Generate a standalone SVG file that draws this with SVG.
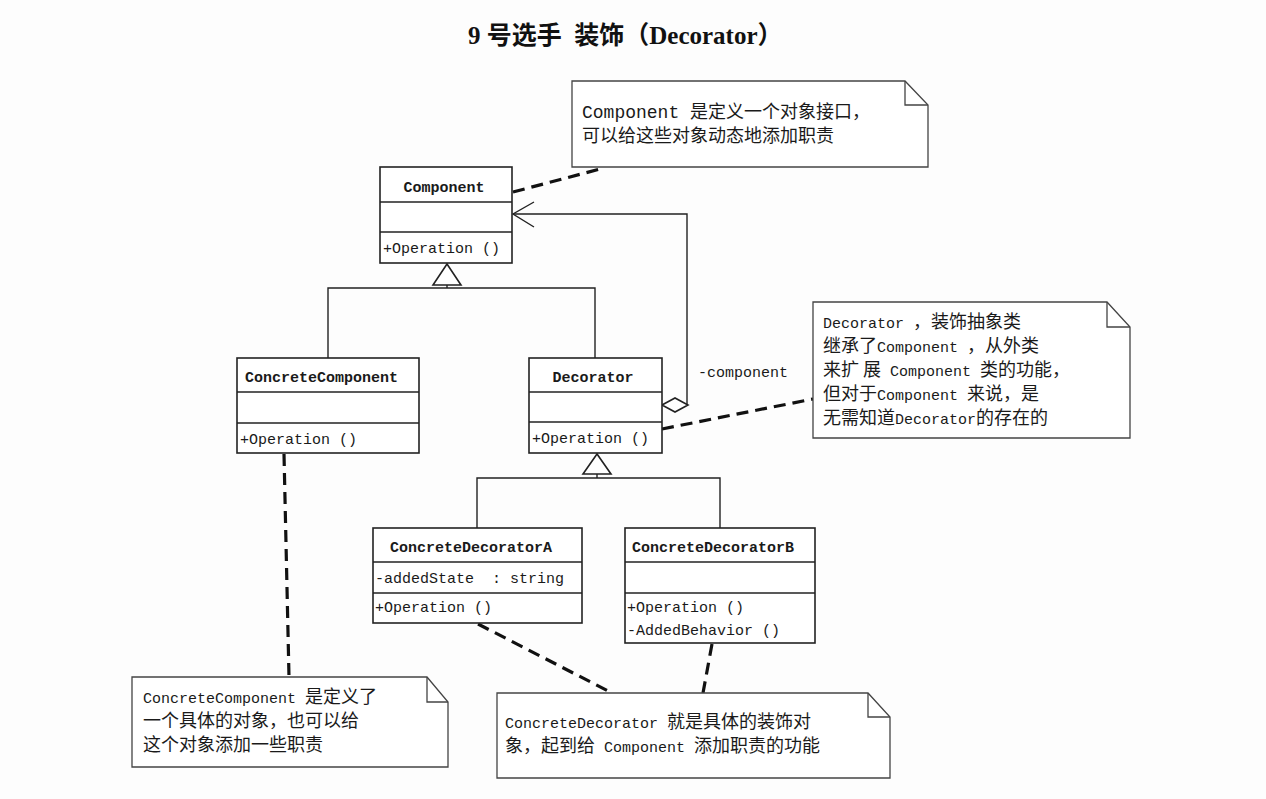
<svg xmlns="http://www.w3.org/2000/svg" width="1266" height="799" viewBox="0 0 1266 799">
<style>
.bg{fill:#fdfdfd}
.box{fill:#fff;stroke:#222;stroke-width:1.6}
.div{stroke:#222;stroke-width:1.4;fill:none}
.ln{stroke:#222;stroke-width:1.4;fill:none}
.tri{fill:#fff;stroke:#222;stroke-width:1.6}
.dash{stroke:#111;stroke-width:3.2;fill:none;stroke-dasharray:12 7}
.note{fill:#fff;stroke:#444;stroke-width:1.3}
.fold{fill:none;stroke:#444;stroke-width:1.3}
text{font-family:"Liberation Mono","Noto Sans CJK SC",monospace;fill:#1a1a1a}
.cls{font-size:15px}
.nm{font-size:15px;font-weight:bold}
.nt{font-size:15px}
.z{font-family:"Noto Sans CJK SC",sans-serif;font-size:18px}
.title{font-family:"Liberation Serif","Noto Sans CJK SC",serif;font-size:25px;font-weight:bold;fill:#111}
</style>
<rect class="bg" x="0" y="0" width="1266" height="799"/>
<text class="title" x="468" y="44" xml:space="preserve">9 号选手  装饰（Decorator）</text>

<g id="connectors">
  <polyline class="ln" points="328,358 328,288 595,288 595,358"/>
  <line class="ln" x1="447" y1="285" x2="447" y2="288"/>
  <polygon class="tri" points="447,264 433,285 461,285"/>
  <polyline class="ln" points="477,528 477,478 720,478 720,528"/>
  <line class="ln" x1="597" y1="474" x2="597" y2="478"/>
  <polygon class="tri" points="597,454 583,474 611,474"/>
  <polyline class="ln" points="687,405 687,214 513,214"/>
  <polyline class="ln" points="534,202 513,214 534,227"/>
  <polygon class="tri" points="662,405 675,398 688,405 675,412"/>
  <text class="cls" x="698" y="377">-component</text>
  <line class="dash" x1="513" y1="192" x2="604" y2="168"/>
  <line class="dash" x1="662" y1="429" x2="813" y2="399"/>
  <line class="dash" x1="284" y1="454" x2="289" y2="677"/>
  <line class="dash" x1="478" y1="624" x2="612" y2="693"/>
  <line class="dash" x1="712" y1="644" x2="703" y2="693"/>
</g>

<g id="component">
  <rect class="box" x="380" y="167" width="132" height="96"/>
  <line class="div" x1="380" y1="202" x2="512" y2="202"/>
  <line class="div" x1="380" y1="232" x2="512" y2="232"/>
  <text class="nm" x="444" y="192" text-anchor="middle">Component</text>
  <text class="cls" x="383" y="253">+Operation ()</text>
</g>

<g id="concrete-component">
  <rect class="box" x="237" y="358" width="182" height="95"/>
  <line class="div" x1="237" y1="392" x2="419" y2="392"/>
  <line class="div" x1="237" y1="423" x2="419" y2="423"/>
  <text class="nm" x="245" y="382">ConcreteComponent</text>
  <text class="cls" x="240" y="444">+Operation ()</text>
</g>

<g id="decorator">
  <rect class="box" x="529" y="358" width="133" height="95"/>
  <line class="div" x1="529" y1="392" x2="662" y2="392"/>
  <line class="div" x1="529" y1="422" x2="662" y2="422"/>
  <text class="nm" x="593" y="382" text-anchor="middle">Decorator</text>
  <text class="cls" x="532" y="443">+Operation ()</text>
</g>

<g id="concrete-decorator-a">
  <rect class="box" x="373" y="528" width="209" height="95"/>
  <line class="div" x1="373" y1="562" x2="582" y2="562"/>
  <line class="div" x1="373" y1="593" x2="582" y2="593"/>
  <text class="nm" x="390" y="552">ConcreteDecoratorA</text>
  <text class="cls" x="375" y="583" xml:space="preserve">-addedState  : string</text>
  <text class="cls" x="375" y="612">+Operation ()</text>
</g>

<g id="concrete-decorator-b">
  <rect class="box" x="625" y="528" width="190" height="115"/>
  <line class="div" x1="625" y1="562" x2="815" y2="562"/>
  <line class="div" x1="625" y1="593" x2="815" y2="593"/>
  <text class="nm" x="632" y="552">ConcreteDecoratorB</text>
  <text class="cls" x="627" y="612">+Operation ()</text>
  <text class="cls" x="627" y="635">-AddedBehavior ()</text>
</g>

<g id="note-component">
  <path class="note" d="M572,81 H905 L928,105 V167 H572 Z"/>
  <path class="fold" d="M905,81 V105 H928"/>
  <text x="582" y="118" style="font-size:18px"><tspan>Component </tspan><tspan class="z">是定义一个对象接口，</tspan></text>
  <text x="582" y="142"><tspan class="z">可以给这些对象动态地添加职责</tspan></text>
</g>

<g id="note-decorator">
  <path class="note" d="M813,302 H1107 L1130,327 V438 H813 Z"/>
  <path class="fold" d="M1107,302 V327 H1130"/>
  <text class="nt" x="823" y="328" xml:space="preserve"><tspan>Decorator </tspan><tspan class="z">，装饰抽象类</tspan></text>
  <text class="nt" x="823" y="352" xml:space="preserve"><tspan class="z">继承了</tspan><tspan>Component </tspan><tspan class="z">，从外类</tspan></text>
  <text class="nt" x="823" y="376" xml:space="preserve"><tspan class="z">来扩 展</tspan><tspan> Component </tspan><tspan class="z">类的功能，</tspan></text>
  <text class="nt" x="823" y="400" xml:space="preserve"><tspan class="z">但对于</tspan><tspan>Component </tspan><tspan class="z">来说，是</tspan></text>
  <text class="nt" x="823" y="424"><tspan class="z">无需知道</tspan><tspan>Decorator</tspan><tspan class="z">的存在的</tspan></text>
</g>

<g id="note-concrete-component">
  <path class="note" d="M132,677 H427 L448,702 V767 H132 Z"/>
  <path class="fold" d="M427,677 V702 H448"/>
  <text class="nt" x="143" y="703" xml:space="preserve"><tspan>ConcreteComponent </tspan><tspan class="z">是定义了</tspan></text>
  <text class="nt" x="143" y="727"><tspan class="z">一个具体的对象，也可以给</tspan></text>
  <text class="nt" x="143" y="751"><tspan class="z">这个对象添加一些职责</tspan></text>
</g>

<g id="note-concrete-decorator">
  <path class="note" d="M497,693 H868 L890,717 V778 H497 Z"/>
  <path class="fold" d="M868,693 V717 H890"/>
  <text class="nt" x="505" y="728" xml:space="preserve"><tspan>ConcreteDecorator </tspan><tspan class="z">就是具体的装饰对</tspan></text>
  <text class="nt" x="505" y="752" xml:space="preserve"><tspan class="z">象，起到给</tspan><tspan> Component </tspan><tspan class="z">添加职责的功能</tspan></text>
</g>
</svg>
